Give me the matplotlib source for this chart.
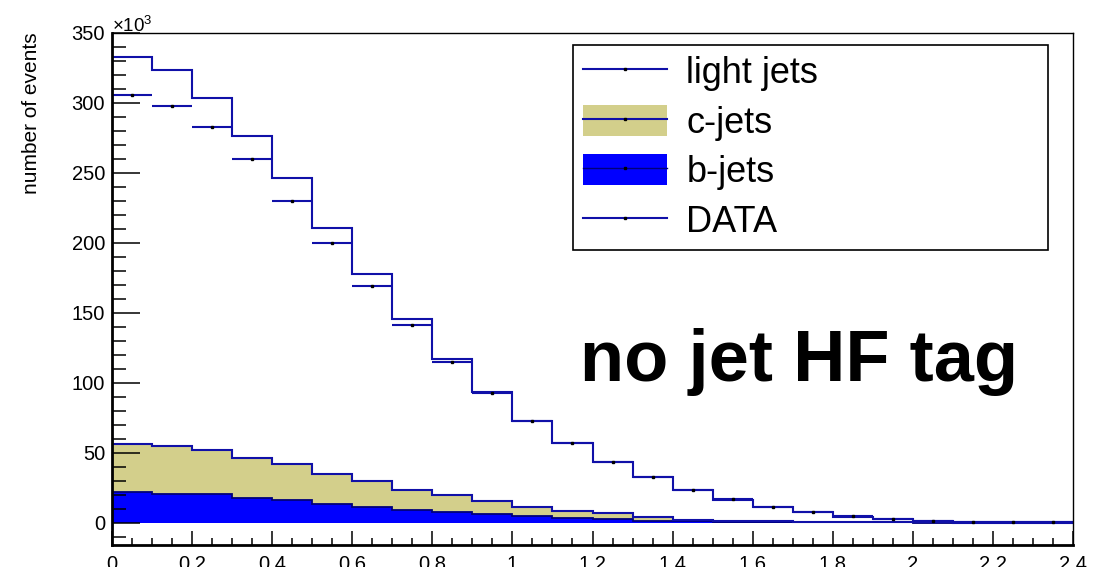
import numpy as np
import matplotlib
matplotlib.use('Agg')
import matplotlib.pyplot as plt
from matplotlib.lines import Line2D
from matplotlib.patches import Patch
from matplotlib.ticker import MultipleLocator

# Histogram binning (eta-like variable), 24 bins of 0.1
bin_edges = [0.0, 0.1, 0.2, 0.3, 0.4, 0.5, 0.6, 0.7, 0.8, 0.9, 1.0, 1.1, 1.2,
             1.3, 1.4, 1.5, 1.6, 1.7, 1.8, 1.9, 2.0, 2.1, 2.2, 2.3, 2.4]

# Event counts per bin, in units of 10^3
b_jets = [22.0, 20.8, 20.1, 17.9, 16.1, 13.6, 11.5, 9.1, 7.7, 6.0, 4.6, 3.3,
          2.4, 1.5, 0.9, 0.6, 0.4, 0.25, 0.15, 0.1, 0.05, 0.03, 0.02, 0.01]
c_jets = [33.9, 33.7, 31.8, 28.5, 25.5, 21.5, 18.6, 14.3, 11.7, 9.1, 6.7, 5.3,
          4.3, 2.4, 1.0, 0.6, 0.4, 0.25, 0.15, 0.1, 0.05, 0.03, 0.02, 0.01]
light_jets = [277.1, 269.1, 251.8, 230.3, 204.8, 175.2, 147.7, 122.1, 97.9,
              78.2, 61.6, 48.0, 36.5, 28.5, 21.2, 15.1, 10.4, 6.8, 4.0, 2.2,
              1.1, 0.55, 0.26, 0.18]
data_counts = [305.5, 298.0, 283.0, 259.8, 230.0, 199.6, 169.5, 141.2, 114.7,
               92.8, 72.7, 56.6, 43.0, 32.8, 23.2, 16.7, 11.3, 7.5, 4.4, 2.3,
               1.1, 0.6, 0.3, 0.2]

y_ticks = [0, 50, 100, 150, 200, 250, 300, 350]
x_ticks = [0, 0.2, 0.4, 0.6, 0.8, 1, 1.2, 1.4, 1.6, 1.8, 2, 2.2, 2.4]
x_tick_labels = ['0', '0.2', '0.4', '0.6', '0.8', '1', '1.2', '1.4', '1.6',
                 '1.8', '2', '2.2', '2.4']

plt.rcParams['font.family'] = ['Liberation Sans', 'DejaVu Sans']
plt.rcParams['mathtext.fontset'] = 'custom'
plt.rcParams['mathtext.rm'] = 'Liberation Sans'
plt.rcParams['mathtext.it'] = 'Liberation Sans'

line_color = '#1010a8'
khaki = '#d3cf8b'
fill_blue = '#0000ff'

edges = np.array(bin_edges)
centers = 0.5 * (edges[:-1] + edges[1:])
half_width = 0.5 * (edges[1:] - edges[:-1])
b = np.array(b_jets)
bc = b + np.array(c_jets)
total = bc + np.array(light_jets)

fig = plt.figure(figsize=(11.03, 5.67), dpi=100)
ax = fig.add_axes([112 / 1103, 22 / 567, 961 / 1103, 512 / 567])

# stacked histograms (ROOT THStack style)
ax.stairs(bc, edges, baseline=0, fill=True, facecolor=khaki, edgecolor='none')
ax.stairs(b, edges, baseline=0, fill=True, facecolor=fill_blue, edgecolor='none')
ax.stairs(b, edges, baseline=0, color='#00007a', lw=1.3)
ax.stairs(bc, edges, baseline=0, color=line_color, lw=1.5)
ax.stairs(total, edges, baseline=0, color=line_color, lw=1.5)

# data points with horizontal bin-width bars
ax.errorbar(centers, data_counts, xerr=half_width, fmt='s', ms=2, mfc='k', mec='k',
            ecolor=line_color, elinewidth=1.5, capsize=0)

ax.set_xlim(0, 2.4)
ax.set_ylim(-16, 350)
ax.set_yticks(y_ticks)
ax.set_xticks(x_ticks)
ax.set_xticklabels(x_tick_labels)
ax.yaxis.set_minor_locator(MultipleLocator(10))
ax.xaxis.set_minor_locator(MultipleLocator(0.05))
ax.tick_params(axis='y', which='major', direction='in', length=20, width=1.1,
               labelsize=14.5, pad=5)
ax.tick_params(axis='y', which='minor', direction='in', length=10, width=1.1)
ax.tick_params(axis='x', which='major', direction='in', length=10, width=1.1,
               labelsize=14.5, pad=7)
ax.tick_params(axis='x', which='minor', direction='in', length=5, width=1.1)
for side in ['left', 'bottom']:
    ax.spines[side].set_linewidth(2)
for side in ['top', 'right']:
    ax.spines[side].set_linewidth(1)

ax.set_ylabel('number of events', loc='top', fontsize=15)
ax.yaxis.set_label_coords(-0.0735, 1.002)
ax.text(0.0, 1.0025, r'$\times10^{3}$', transform=ax.transAxes, ha='left',
        va='baseline', fontsize=13.5)

# legend
h_light = Line2D([], [], color=line_color, lw=1.5, marker='s', ms=2, mfc='k', mec='k')
h_c = (Patch(facecolor=khaki, edgecolor='none'),
       Line2D([], [], color=line_color, lw=1.5, marker='s', ms=2, mfc='k', mec='k'))
h_b = (Patch(facecolor=fill_blue, edgecolor='none'),
       Line2D([], [], color='#00007a', lw=1, marker='s', ms=2, mfc='k', mec='k'))
h_data = Line2D([], [], color=line_color, lw=1.5, marker='s', ms=2, mfc='k', mec='k')
leg = ax.legend([h_light, h_c, h_b, h_data], ['light jets', 'c-jets', 'b-jets', 'DATA'],
                loc='upper left', bbox_to_anchor=((573 - 112) / 961, (545 - 45) / 512,
                                                  475 / 961, 0.0),
                mode='expand', fontsize=26, numpoints=1, handlelength=2.3,
                handleheight=0.95, handletextpad=0.55, labelspacing=0.37,
                borderpad=0.29, borderaxespad=0, frameon=True, fancybox=False,
                framealpha=1)
leg.get_frame().set_edgecolor('black')
leg.get_frame().set_linewidth(1.2)

ax.text((580 - 112) / 961, (545 - 381) / 512, 'no jet HF tag', transform=ax.transAxes,
        ha='left', va='baseline', fontsize=52, fontweight='bold')

fig.savefig('out.png', dpi=100)
